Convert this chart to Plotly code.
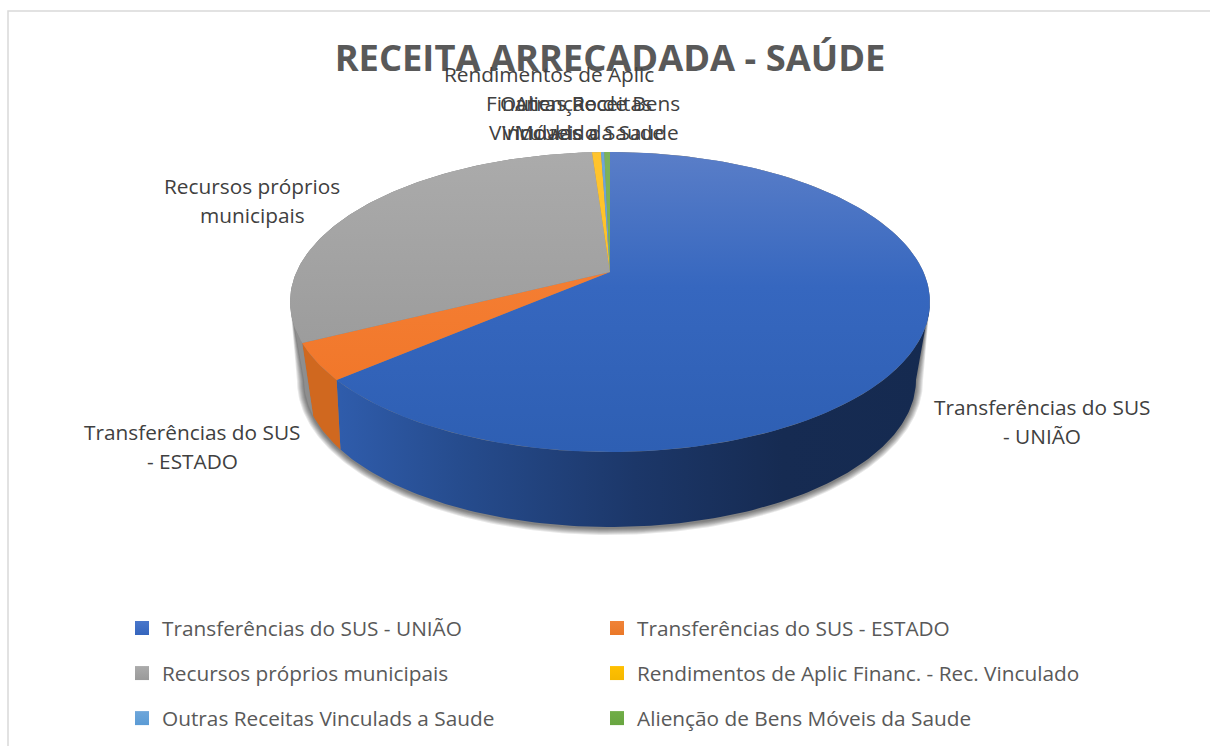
import math
import plotly.graph_objects as go

# ---- data (percent shares, clockwise from 12 o'clock) ----
categories = ["Transferências do SUS - UNIÃO", "Transferências do SUS - ESTADO",
              "Recursos próprios municipais", "Rendimentos de Aplic Financ. - Rec. Vinculado",
              "Outras Receitas Vinculads a Saude", "Alienção de Bens Móveis da Saude"]
values = [63.7, 3.9, 31.3, 0.55, 0.2, 0.35]
label_lines = [["Transferências do SUS", "- UNIÃO"], ["Transferências do SUS", "- ESTADO"],
               ["Recursos próprios", "municipais"], ["Rendimentos de Aplic", "Financ. - Rec.", "Vinculado"],
               ["Outras Receitas", "Vinculads a Saude"], ["Alienção de Bens", "Móveis da Saude"]]
title_text = "RECEITA ARRECADADA - SAÚDE"

# ---- styles ----
top_scales = [
    [[0, "#5a7ec8"], [0.45, "#3667bf"], [1, "#2e5fb3"]],
    [[0, "#f8853c"], [1, "#ef7325"]],
    [[0, "#ababab"], [1, "#949494"]],
    [[0, "#ffc42e"], [1, "#ffbf1a"]],
    [[0, "#6ea6da"], [1, "#5b9bd5"]],
    [[0, "#7db35a"], [1, "#70ad47"]],
]
wall_scales = [
    [[0, "#2f5cab"], [0.2, "#264c8e"], [0.5, "#1c3769"], [0.75, "#162b52"], [1, "#152a50"]],
    [[0, "#d0681f"], [1, "#c9641c"]],
    [[0, "#8e8e8e"], [1, "#8e8e8e"]],
    [[0, "#c69214"], [1, "#c69214"]],
    [[0, "#41719c"], [1, "#41719c"]],
    [[0, "#548235"], [1, "#548235"]],
]
legend_colors = ["#4a77cb", "#f08338", "#ababab", "#ffc000", "#6ea6da", "#70ad47"]
legend_dark = ["#3565bd", "#ea7828", "#9a9a9a", "#f5b800", "#5b9bd5", "#68a540"]

# ---- pie geometry on a pixel-sized axis ----
CX, CY = 610, 302          # centre of top ellipse
PERSP = 0.2                # foreshortening of the tilted disc
RX_K, RY, OFF = 313.5, 150, 30
RIM_RX = RX_K / math.sqrt(1 - PERSP ** 2) * math.sqrt(1 - PERSP ** 2) * 1.0206  # widest half-width of the top rim
B_RX, B_RY, B_CY = 306, 147, 380   # bottom rim
B_SLANT = 0.06             # wall edges lean outwards a little towards the bottom


def rim(theta):
    u, v = math.sin(theta), math.cos(theta)
    d = 1 + PERSP * v
    return CX + RX_K * u / d, CY - (RY * v + OFF) / d


def bottom(theta):
    x, y = rim(theta)
    phi = math.atan2((y - CY) / RY, (x - CX) / RIM_RX)
    phi -= B_SLANT * math.sin(2 * phi)
    return CX + B_RX * math.cos(phi), B_CY + B_RY * math.sin(phi)


def arc(a, b, fn, step=math.radians(1)):
    n = max(2, int(abs(b - a) / step) + 1)
    return [fn(a + (b - a) * i / n) for i in range(n + 1)]


total = sum(values)
edges = [0.0]
for val in values:
    edges.append(edges[-1] + val / total * 2 * math.pi)

# the walls run between the two points where the disc is widest
WALL_MIN = math.acos(-PERSP)
WALL_MAX = 2 * math.pi - WALL_MIN

fig = go.Figure()

# soft shadow under the disc, tapering out at the widest points of the top rim
for grow in range(7, 0, -1):
    pts = arc(WALL_MIN, WALL_MAX, bottom)
    xs = [CX + (p[0] - CX) * (1 + grow / B_RX) for p in pts]
    ys = [B_CY + 1 + (p[1] - B_CY) * (1 + grow / B_RY) for p in pts]
    back = arc(WALL_MAX, WALL_MIN + 2 * math.pi, rim)
    xs += [p[0] for p in back]
    ys += [p[1] for p in back]
    fig.add_trace(go.Scatter(x=xs, y=ys, mode="lines", line=dict(width=0), fill="toself",
                             fillcolor="rgba(0,0,0,0.09)", hoverinfo="skip", showlegend=False))

# side walls
for i, name in enumerate(categories):
    a, b = max(edges[i], WALL_MIN), min(edges[i + 1], WALL_MAX)
    if a >= b:
        continue
    t_pts = arc(a, b, rim)
    b_pts = arc(b, a, bottom)
    xs = [p[0] for p in t_pts + b_pts] + [t_pts[0][0]]
    ys = [p[1] for p in t_pts + b_pts] + [t_pts[0][1]]
    grad = dict(type="horizontal", colorscale=wall_scales[i], start=340, stop=930) if i == 0 else None
    fig.add_trace(go.Scatter(x=xs, y=ys, mode="lines", line=dict(width=0), fill="toself",
                             fillcolor=wall_scales[i][0][1], fillgradient=grad,
                             hoverinfo="skip", showlegend=False))

# top faces
for i, name in enumerate(categories):
    pts = arc(edges[i], edges[i + 1], rim)
    apex = (CX, CY - OFF)
    xs = [apex[0]] + [p[0] for p in pts] + [apex[0]]
    ys = [apex[1]] + [p[1] for p in pts] + [apex[1]]
    fig.add_trace(go.Scatter(x=xs, y=ys, mode="lines", line=dict(width=0), fill="toself",
                             fillgradient=dict(type="vertical", colorscale=top_scales[i],
                                               start=CY - RY, stop=CY + RY),
                             name=name, hoveron="fills", text=f"{name}: {values[i]}%",
                             hoverinfo="text", showlegend=False))

# legend entries (two stacked columns)
for i, name in enumerate(categories):
    fig.add_trace(go.Scatter(x=[None], y=[None], mode="markers", name=name,
                             marker=dict(symbol="square", size=14, color=legend_colors[i],
                                         gradient=dict(type="vertical", color=legend_dark[i])),
                             legend="legend" if i % 2 == 0 else "legend2",
                             legendgroup=f"g{i}", showlegend=True, hoverinfo="skip"))

# ---- slice labels: centre x and first-line y of every label, 29 px line pitch ----
label_pos = [(1042, 407), (192, 432), (252, 185.5), (549, 74), (576, 103), (597, 103)]
LINE_PITCH = 29
annotations = [
    dict(x=lx, y=ly + j * LINE_PITCH, text=line, showarrow=False, xanchor="center", yanchor="middle",
         align="center", font=dict(family="Open Sans", size=20.8, color="#404040"))
    for (lx, ly), lines in zip(label_pos, label_lines)
    for j, line in enumerate(lines)
]

legend_style = dict(font=dict(family="Open Sans", size=20.8, color="#595959"),
                    bgcolor="rgba(0,0,0,0)", borderwidth=0, tracegroupgap=15,
                    itemclick=False, itemdoubleclick=False, xanchor="left", yanchor="top",
                    orientation="v")

fig.update_layout(
    width=1210, height=746, autosize=False,
    margin=dict(l=0, r=0, t=0, b=0),
    paper_bgcolor="white", plot_bgcolor="white",
    font=dict(family="Open Sans"),
    title=dict(text=f"<b>{title_text}</b>", x=610 / 1210, xanchor="center", xref="paper",
               y=1 - 58 / 746, yanchor="middle", yref="paper",
               font=dict(family="Open Sans", size=36.3, color="#595959")),
    xaxis=dict(range=[0, 1210], visible=False, fixedrange=True),
    yaxis=dict(range=[746, 0], visible=False, fixedrange=True),
    annotations=annotations,
    shapes=[dict(type="rect", xref="x", yref="y", x0=8, y0=11, x1=1300, y1=800,
                 line=dict(color="#d9d9d9", width=1.5), layer="below")],
    legend=dict(x=122 / 1210, y=1 - 608 / 746, **legend_style),
    legend2=dict(x=597 / 1210, y=1 - 608 / 746, **legend_style),
)

fig.write_html("out.html", config={"displayModeBar": False},
               post_script="document.body.style.margin='0';document.body.style.overflow='hidden';")
